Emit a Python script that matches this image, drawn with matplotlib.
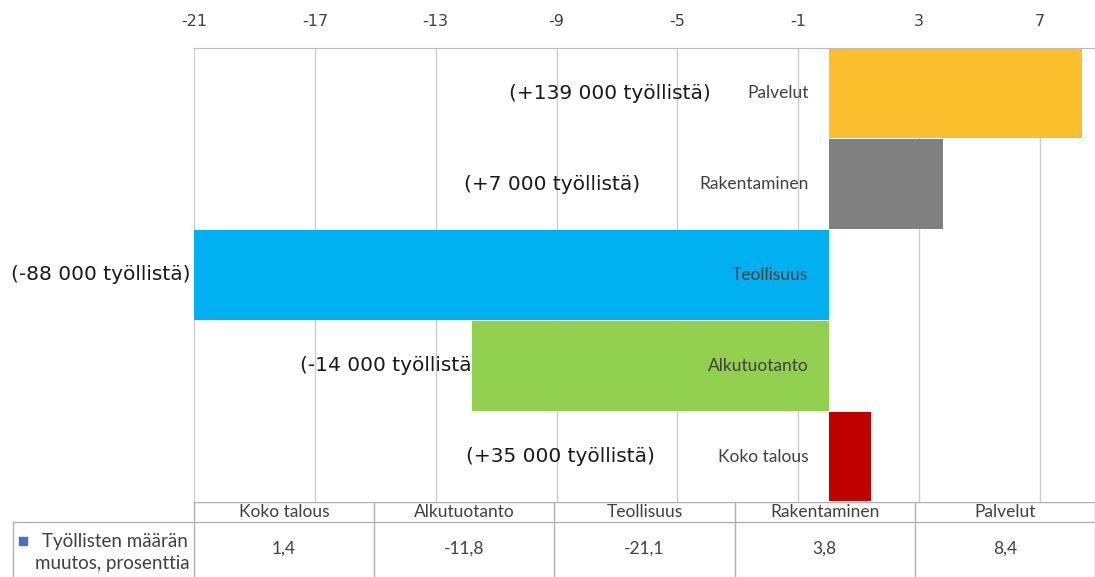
import matplotlib.pyplot as plt
import numpy as np

plt.rcParams["axes.unicode_minus"] = False

# Employment change by sector, percent (bottom to top)
sectors = ["Koko talous", "Alkutuotanto", "Teollisuus", "Rakentaminen", "Palvelut"]
change_pct = [1.4, -11.8, -21.1, 3.8, 8.4]
persons = ["(+35 000 työllistä)", "(-14 000 työllistä", "(-88 000 työllistä)",
           "(+7 000 työllistä)", "(+139 000 työllistä)"]
bar_colors = ["#C00000", "#92D050", "#00B0F0", "#808080", "#FBBF2E"]
xticks = [-21, -17, -13, -9, -5, -1, 3, 7]
row_label = ["Työllisten määrän", "muutos, prosenttia"]

# right end of each "(... työllistä)" note, in axis units
note_x = [-5.75, -11.8, -21.1, -6.25, -3.9]

W, H = 1095, 577
fig = plt.figure(figsize=(W / 100, H / 100), dpi=100, facecolor="white")

# plot area in pixels
left, right, top, bottom = 194, 1095, 48, 502
ax = fig.add_axes([left / W, (H - bottom) / H, (right - left) / W, (bottom - top) / H])

y = np.arange(len(sectors))
ax.barh(y, change_pct, height=0.985, color=bar_colors, edgecolor="none", zorder=2)
ax.set_xlim(-21, 8.82)
ax.set_ylim(-0.5, len(sectors) - 0.5)

ax.set_xticks(xticks)
ax.xaxis.tick_top()
ax.tick_params(axis="x", length=0, pad=14, labelsize=11.5, labelcolor="#404040")
for lbl in ax.get_xticklabels():
    lbl.set_fontfamily("Liberation Sans Narrow")
ax.set_yticks([])
ax.grid(axis="x", color="#cccccc", lw=1, zorder=0)
for s in ["left", "right", "bottom"]:
    ax.spines[s].set_visible(False)
ax.spines["top"].set_color("#bbbbbb")

for yi, name, note, nx in zip(y, sectors, persons, note_x):
    ax.annotate(name, (0, yi), xytext=(-14.5, 0), textcoords="offset points",
                ha="right", va="center", fontsize=12.5, color="#404040",
                family="Lato", zorder=3)
    ax.text(nx, yi, note, ha="right", va="center", fontsize=14.5,
            color="#1a1a1a", family="DejaVu Sans", clip_on=False, zorder=3)

# data table under the plot, drawn in pixel coordinates
tab = fig.add_axes([0, 0, 1, 1], zorder=-1)
tab.set_xlim(0, W)
tab.set_ylim(H, 0)
tab.axis("off")
line_c = "#b0b0b0"
col_w = (right - left) / len(sectors)
head_top, head_bot = 502, 522
tab.plot([left, right], [head_top, head_top], color=line_c, lw=1)
tab.plot([13, right], [head_bot, head_bot], color=line_c, lw=1)
tab.plot([13, 13], [head_bot, H], color=line_c, lw=1)
for i in range(len(sectors) + 1):
    x0 = left + i * col_w
    tab.plot([x0, x0], [head_top, H], color=line_c, lw=1)

for i, (name, v) in enumerate(zip(sectors, change_pct)):
    xc = left + (i + 0.5) * col_w
    tab.text(xc, (head_top + head_bot) / 2, name, ha="center", va="center",
             fontsize=12.5, color="#404040", family="Lato")
    tab.text(xc, 549, f"{v:.1f}".replace(".", ","), ha="center", va="center",
             fontsize=12.5, color="#404040", family="Lato")

tab.scatter([23], [541], marker="s", s=28, color="#4472C4")
tab.text(42, 541, row_label[0], ha="left", va="center", fontsize=13.5,
         color="#404040", family="Lato")
tab.text(35, 564, row_label[1], ha="left", va="center", fontsize=13.5,
         color="#404040", family="Lato")

fig.savefig("out.png", dpi=100, facecolor="white")
